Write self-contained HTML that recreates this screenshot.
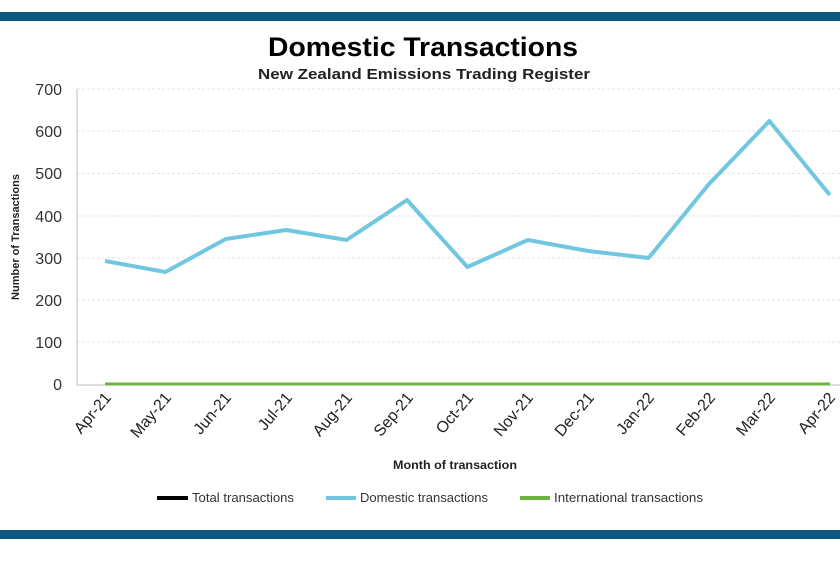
<!DOCTYPE html>
<html><head><meta charset="utf-8"><style>
body{margin:0;width:840px;height:560px;background:#fff;overflow:hidden;font-family:"Liberation Sans",sans-serif}
</style></head><body>
<svg width="840" height="560" xmlns="http://www.w3.org/2000/svg" font-family="Liberation Sans, sans-serif">
<rect x="0" y="12" width="840" height="9" fill="#0d5780"/>
<rect x="0" y="530" width="840" height="9" fill="#0d5780"/>
<text x="423" y="56" text-anchor="middle" font-size="27" font-weight="bold" textLength="310" lengthAdjust="spacingAndGlyphs">Domestic Transactions</text>
<text x="424" y="79" text-anchor="middle" font-size="15" font-weight="bold" fill="#222" textLength="332" lengthAdjust="spacingAndGlyphs">New Zealand Emissions Trading Register</text>
<g stroke="#e4e4e4" stroke-width="1" stroke-dasharray="3,2">
<line x1="77" x2="840" y1="89" y2="89"/><line x1="77" x2="840" y1="131" y2="131"/><line x1="77" x2="840" y1="173.5" y2="173.5"/><line x1="77" x2="840" y1="216" y2="216"/><line x1="77" x2="840" y1="258" y2="258"/><line x1="77" x2="840" y1="300" y2="300"/><line x1="77" x2="840" y1="342" y2="342"/>
</g>
<line x1="77" x2="77" y1="89" y2="385" stroke="#bbb"/>
<line x1="77" x2="840" y1="385" y2="385" stroke="#bbb"/>
<g font-size="16" fill="#333" text-anchor="end">
<text x="62" y="95">700</text><text x="62" y="137">600</text><text x="62" y="179">500</text><text x="62" y="222">400</text><text x="62" y="264">300</text><text x="62" y="306">200</text><text x="62" y="348">100</text><text x="62" y="390">0</text>
</g>
<text transform="translate(19,237) rotate(-90)" text-anchor="middle" font-size="11" font-weight="bold" fill="#222">Number of Transactions</text>
<polyline fill="none" stroke="#72c7e0" stroke-width="4" stroke-linejoin="round" points="105,261 165.4,272 225.8,239 286.2,230 346.6,240 407,200 467.4,267 527.8,240 588.2,251 648.6,258 709,184 769.4,121 829.8,195"/>
<line x1="105" x2="830" y1="384" y2="384" stroke="#6db33f" stroke-width="3"/>
<g font-size="16" fill="#222" text-anchor="end">
<text transform="translate(112,398) rotate(-50)">Apr-21</text>
<text transform="translate(172,398) rotate(-50)">May-21</text>
<text transform="translate(232,398) rotate(-50)">Jun-21</text>
<text transform="translate(293,398) rotate(-50)">Jul-21</text>
<text transform="translate(353,398) rotate(-50)">Aug-21</text>
<text transform="translate(414,398) rotate(-50)">Sep-21</text>
<text transform="translate(474,398) rotate(-50)">Oct-21</text>
<text transform="translate(534,398) rotate(-50)">Nov-21</text>
<text transform="translate(595,398) rotate(-50)">Dec-21</text>
<text transform="translate(655,398) rotate(-50)">Jan-22</text>
<text transform="translate(716,398) rotate(-50)">Feb-22</text>
<text transform="translate(776,398) rotate(-50)">Mar-22</text>
<text transform="translate(836,398) rotate(-50)">Apr-22</text>
</g>
<text x="455" y="469" text-anchor="middle" font-size="12" font-weight="bold" fill="#222" textLength="124" lengthAdjust="spacingAndGlyphs">Month of transaction</text>
<g font-size="12.5" fill="#333">
<line x1="157" x2="188" y1="498" y2="498" stroke="#000" stroke-width="4"/><text x="192" y="502" textLength="102" lengthAdjust="spacingAndGlyphs">Total transactions</text>
<line x1="326" x2="356" y1="498" y2="498" stroke="#72c7e0" stroke-width="4"/><text x="360" y="502" textLength="128" lengthAdjust="spacingAndGlyphs">Domestic transactions</text>
<line x1="520" x2="550" y1="498" y2="498" stroke="#6db33f" stroke-width="4"/><text x="554" y="502" textLength="149" lengthAdjust="spacingAndGlyphs">International transactions</text>
</g>
</svg>
</body></html>
